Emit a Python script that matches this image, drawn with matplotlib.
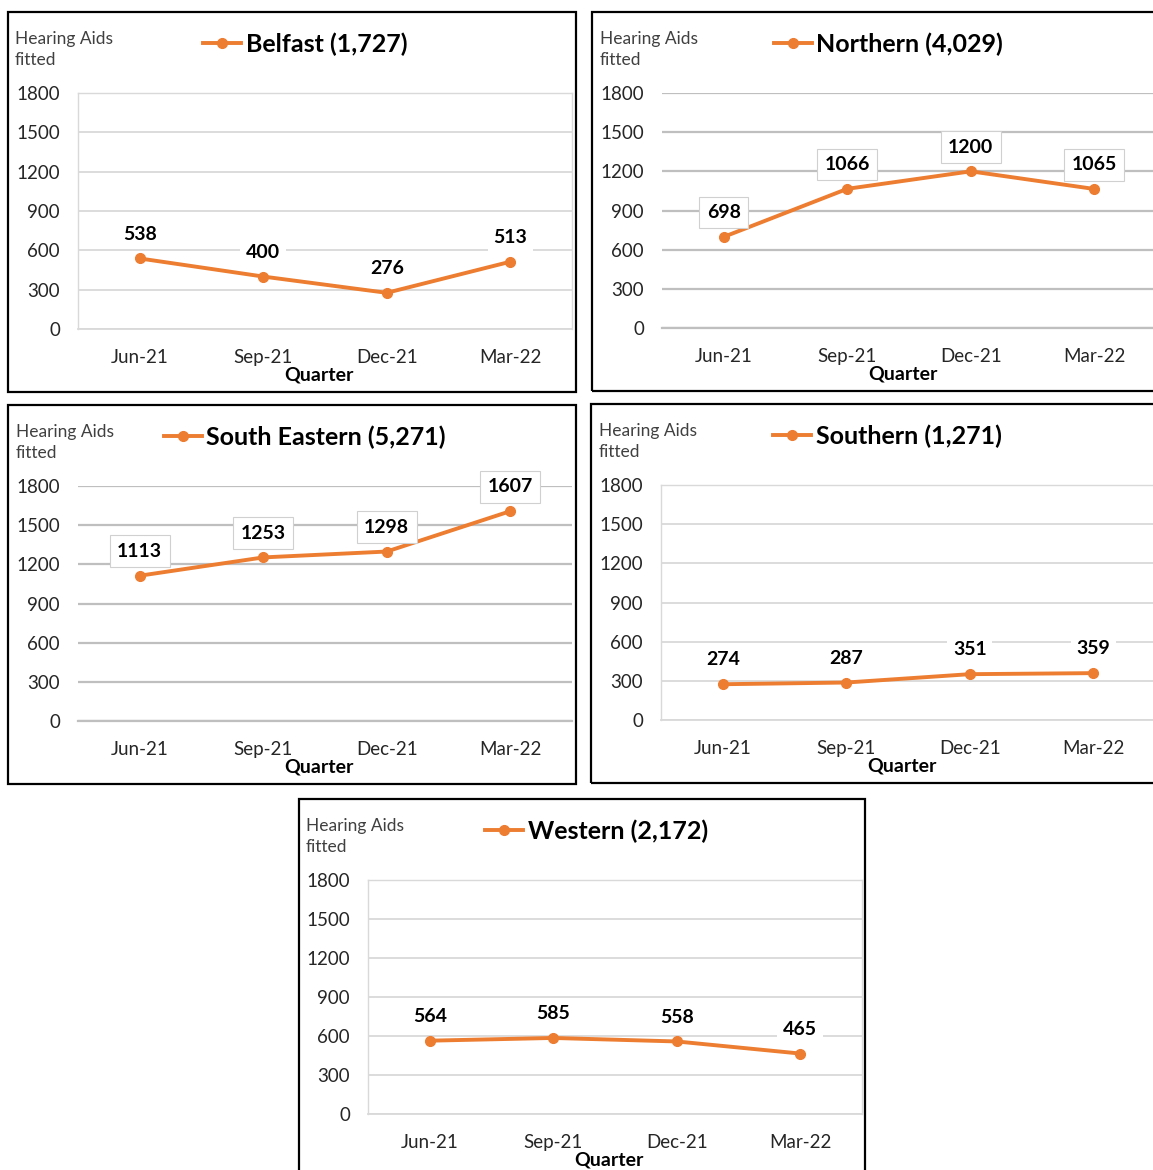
import matplotlib
matplotlib.use("Agg")
import matplotlib.pyplot as plt
from matplotlib.patches import Rectangle

plt.rcParams['font.family'] = ['Lato', 'DejaVu Sans']

# ---- data -------------------------------------------------------------
quarters = ["Jun-21", "Sep-21", "Dec-21", "Mar-22"]
y_ticks = [0, 300, 600, 900, 1200, 1500, 1800]

belfast = [538, 400, 276, 513]
northern = [698, 1066, 1200, 1065]
south_eastern = [1113, 1253, 1298, 1607]
southern = [274, 287, 351, 359]
western = [564, 585, 558, 465]

titles = ["Belfast (1,727)", "Northern (4,029)", "South Eastern (5,271)",
          "Southern (1,271)", "Western (2,172)"]

# ---- layout (pixel units on a 1153 x 1170 canvas) ---------------------
W, H = 1153, 1170
DPI = 100
ORANGE = "#ED7D31"

panels = [
    dict(series=belfast, title=titles[0], border=(8, 12, 576, 392),
         plot=(78, 93, 572, 329), legend=(203, 44), ylab=(15, 31),
         framed=True, boxed=False),
    dict(series=northern, title=titles[1], border=(592, 12, 1162, 391),
         plot=(662, 93, 1156, 328), legend=(774, 44), ylab=(600, 31),
         framed=False, boxed=True),
    dict(series=south_eastern, title=titles[2], border=(8, 405, 576, 784),
         plot=(78, 486, 572, 721), legend=(164, 437), ylab=(16, 424),
         framed=False, boxed=True),
    dict(series=southern, title=titles[3], border=(591, 404, 1161, 783),
         plot=(661, 485, 1155, 720), legend=(773, 436), ylab=(599, 423),
         framed=True, boxed=False),
    dict(series=western, title=titles[4], border=(299, 799, 865, 1180),
         plot=(368, 880, 862, 1114), legend=(485, 831), ylab=(306, 818),
         framed=True, boxed=False),
]

fig = plt.figure(figsize=(W / DPI, H / DPI), dpi=DPI)
fig.patch.set_facecolor("white")


def fx(x):
    return x / W


def fy(y):
    return 1 - y / H


for p in panels:
    # black outline around each chart
    bx0, by0, bx1, by1 = p["border"]
    fig.patches.append(Rectangle((fx(bx0), fy(by1)), fx(bx1) - fx(bx0),
                                 fy(by0) - fy(by1), transform=fig.transFigure,
                                 fill=False, edgecolor="black", linewidth=1.6,
                                 zorder=0))

    x0, y0, x1, y1 = p["plot"]
    ax = fig.add_axes([fx(x0), fy(y1), fx(x1) - fx(x0), fy(y0) - fy(y1)])
    ax.set_xlim(-0.5, len(quarters) - 0.5)
    ax.set_ylim(0, 1800)
    ax.set_yticks(y_ticks)
    ax.set_xticks(range(len(quarters)))
    ax.set_xticklabels(quarters)

    if p["framed"]:
        grid_color, grid_lw = "#D9D9D9", 1.3
    else:
        grid_color, grid_lw = "#BFBFBF", 1.6
    ax.yaxis.grid(True, color=grid_color, linewidth=grid_lw)
    ax.set_axisbelow(True)
    for side in ("left", "right", "top"):
        ax.spines[side].set_visible(p["framed"])
        ax.spines[side].set_color("#D9D9D9")
        ax.spines[side].set_linewidth(1.0)
    ax.spines["bottom"].set_color(grid_color)
    ax.spines["bottom"].set_linewidth(grid_lw)

    ax.tick_params(axis="both", length=0, labelsize=13.5, colors="#262626")
    ax.tick_params(axis="y", pad=13)
    ax.tick_params(axis="x", pad=14.5)

    line, = ax.plot(range(len(quarters)), p["series"], color=ORANGE,
                    linewidth=2.8, marker="o", markersize=7,
                    label=p["title"], clip_on=False, zorder=3)

    # value labels above each point
    for i, v in enumerate(p["series"]):
        if p["boxed"]:
            bbox = dict(boxstyle="square,pad=0.38", facecolor="white",
                        edgecolor="#D0D0D0", linewidth=0.8)
        else:
            bbox = dict(boxstyle="square,pad=0.3", facecolor="white",
                        edgecolor="none")
        ax.annotate(str(v), (i, v), xytext=(0, 17.5), textcoords="offset points",
                    ha="center", va="center", fontsize=14, fontweight="bold",
                    color="black", bbox=bbox, zorder=4)

    ax.set_xlabel("Quarter", fontsize=14, fontweight="bold", labelpad=0.5,
                  color="black")
    ax.xaxis.label.set_position((0.5 - 6 / (x1 - x0), 0))

    lx, ly = p["legend"]
    ax.legend(handles=[line], loc="center left",
              bbox_to_anchor=(fx(lx), fy(ly)), bbox_transform=fig.transFigure,
              frameon=False, borderpad=0, borderaxespad=0, handlelength=1.5,
              handletextpad=0.2, prop=dict(size=18, weight="bold"))

    tx, ty = p["ylab"]
    fig.text(fx(tx), fy(ty), "Hearing Aids\nfitted", ha="left", va="top",
             fontsize=12.5, color="#404040", linespacing=1.4)

fig.savefig("out.png", dpi=DPI, facecolor="white")
